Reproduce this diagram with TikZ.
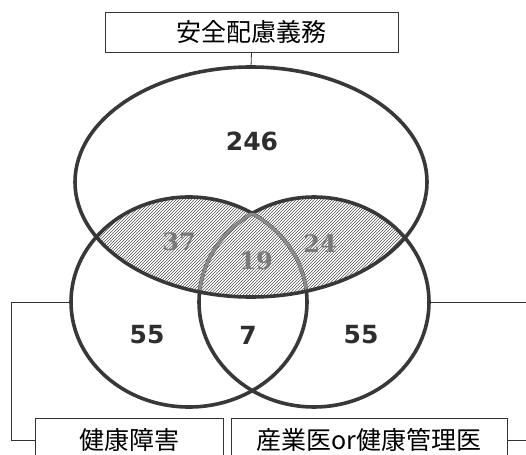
\documentclass[tikz,border=0pt]{standalone}
\usepackage{fontspec}
\newfontfamily\cjk{Noto Sans CJK JP}
\newfontfamily\numfont{DejaVu Sans}
\newfontfamily\serifnum{DejaVu Serif}
\usetikzlibrary{shapes.geometric,patterns}
\begin{document}
\begin{tikzpicture}[x=1pt,y=-1pt,
  venn/.style={ellipse, draw=black!78, line width=3.6pt, inner sep=0pt, outer sep=0pt},
  lightarc/.style={draw=black!45, line width=3pt},
  num/.style={font=\numfont\bfseries\fontsize{25}{30}\selectfont, text=black!82, inner sep=0pt},
  gnum/.style={font=\serifnum\bfseries\fontsize{24}{30}\selectfont, text=black!52, inner sep=0pt},
  lab/.style={draw=black!80, line width=0.8pt, fill=white, inner sep=0pt, minimum height=40pt,
              font=\cjk\fontsize{25}{30}\selectfont},
  conn/.style={draw=black!80, line width=0.8pt}]
\useasboundingbox (0,0) rectangle (526,454);
\clip (0,0) rectangle (526,454);
\fill[white] (0,0) rectangle (526,454);
% hatched overlap
\begin{scope}
  \clip (251,182) ellipse [x radius=176, y radius=115];
  \fill[pattern=north east lines, pattern color=black!65]
    (189,302) ellipse [x radius=118, y radius=105]
    (314,302) ellipse [x radius=115, y radius=105];
\end{scope}
% lower ellipses
\node[venn, minimum width=236pt, minimum height=210pt] (L) at (189,302) {};
\node[venn, minimum width=230pt, minimum height=210pt] (R) at (314,302) {};
% light inner arcs
\begin{scope}
  \clip (251,182) ellipse [x radius=176, y radius=115];
  \clip (314,302) ellipse [x radius=115, y radius=105];
  \draw[lightarc] (189,302) ellipse [x radius=118, y radius=105];
\end{scope}
\begin{scope}
  \clip (251,182) ellipse [x radius=176, y radius=115];
  \clip (189,302) ellipse [x radius=118, y radius=105];
  \draw[lightarc] (314,302) ellipse [x radius=115, y radius=105];
\end{scope}
% top ellipse
\node[venn, minimum width=352pt, minimum height=230pt] (T) at (251,182) {};
% numbers
\node[num] (n246) at (252,141) {246};
\node[gnum] (n37) at (179,242) {37};
\node[gnum] (n24) at (320,244) {24};
\node[gnum] (n19) at (256,261) {19};
\node[num] (n55a) at (147,335) {55};
\node[num] (n7) at (248,335) {7};
\node[num] (n55b) at (361,335) {55};
% label boxes
\node[lab, minimum width=293pt] (tb) at (251.5,32) {安全配慮義務};
\node[lab, minimum width=188pt, minimum height=44pt] (hb) at (129,440) {健康障害};
\node[lab, minimum width=276pt, minimum height=44pt] (db) at (369,440) {産業医or健康管理医};
% connectors
\coordinate (lk) at (11,440);
\coordinate (rk) at (545,440);
\draw[conn] (tb.south) -- (T.north);
\draw[conn] (L.west) -| (lk) -- (hb.west);
\draw[conn] (R.east) -| (rk) -- (db.east);
\end{tikzpicture}
\end{document}
